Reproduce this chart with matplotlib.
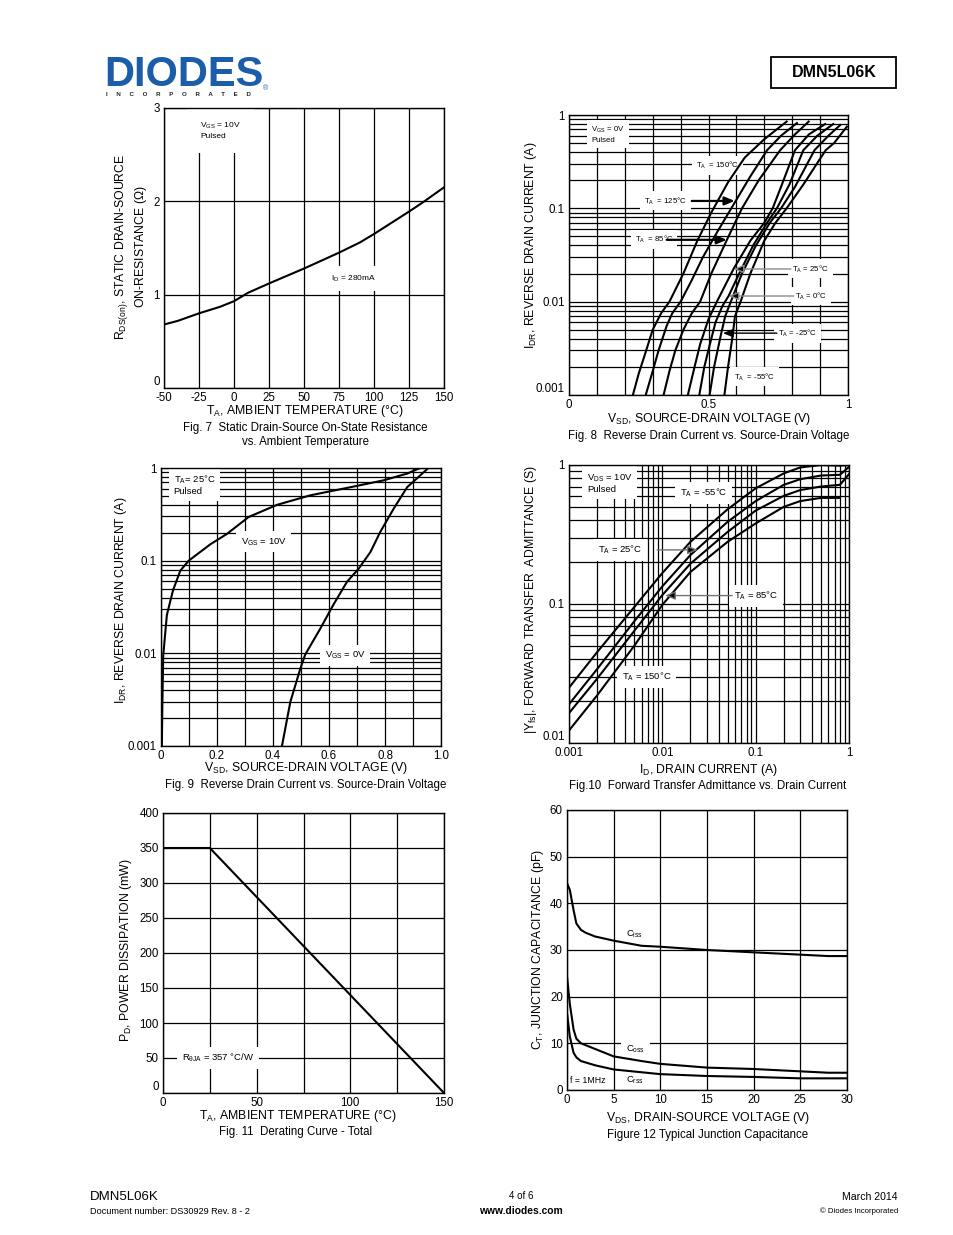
import numpy as np
import matplotlib
matplotlib.use("Agg")
import matplotlib.pyplot as plt
from matplotlib.ticker import FixedLocator, FixedFormatter, LogLocator, NullFormatter
from matplotlib.patches import Rectangle

plt.rcParams['font.family'] = ['Liberation Sans', 'DejaVu Sans']
plt.rcParams['mathtext.fontset'] = 'custom'
plt.rcParams['mathtext.rm'] = 'Liberation Sans'
plt.rcParams['mathtext.it'] = 'Liberation Sans:italic'
plt.rcParams['mathtext.default'] = 'regular'
plt.rcParams['axes.unicode_minus'] = False

# ---------------- data ----------------
# Fig 7
f7_temp = [-50, -40, -25, -10, 0, 10, 25, 50, 75, 90, 100, 125, 135, 150]
f7_rdson = [0.68, 0.72, 0.80, 0.87, 0.93, 1.02, 1.12, 1.28, 1.45, 1.56, 1.65, 1.89, 1.99, 2.15]

# Fig 8 (V_SD, I_DR) per temperature
f8_150_v = [0.229, 0.25, 0.27, 0.30, 0.33, 0.36, 0.41, 0.46, 0.51, 0.57, 0.63, 0.70, 0.78]
f8_150_i = [0.001, 0.0017, 0.0026, 0.005, 0.0075, 0.01, 0.02, 0.045, 0.09, 0.19, 0.35, 0.55, 0.85]
f8_125_v = [0.275, 0.30, 0.321, 0.35, 0.37, 0.40, 0.44, 0.48, 0.53, 0.596, 0.65, 0.71, 0.76, 0.817]
f8_125_i = [0.001, 0.0018, 0.003, 0.0055, 0.0075, 0.01, 0.017, 0.03, 0.055, 0.118, 0.22, 0.42, 0.6, 0.82]
f8_85_v = [0.339, 0.36, 0.381, 0.41, 0.44, 0.47, 0.51, 0.566, 0.62, 0.68, 0.757, 0.81, 0.859]
f8_85_i = [0.001, 0.0018, 0.003, 0.005, 0.0075, 0.01, 0.02, 0.046, 0.1, 0.2, 0.42, 0.62, 0.85]
f8_25_v = [0.426, 0.45, 0.47, 0.50, 0.53, 0.59, 0.65, 0.70, 0.73, 0.76, 0.81, 0.86, 0.918]
f8_25_i = [0.001, 0.002, 0.0035, 0.0065, 0.01, 0.0225, 0.045, 0.07, 0.1, 0.17, 0.42, 0.62, 0.8]
f8_0_v = [0.467, 0.485, 0.505, 0.525, 0.55, 0.572, 0.61, 0.66, 0.71, 0.745, 0.79, 0.84, 0.89, 0.947]
f8_0_i = [0.001, 0.002, 0.0035, 0.006, 0.009, 0.0115, 0.02, 0.04, 0.07, 0.1, 0.18, 0.42, 0.6, 0.8]
f8_m25_v = [0.504, 0.52, 0.545, 0.56, 0.58, 0.62, 0.67, 0.72, 0.76, 0.81, 0.88, 0.93, 0.972]
f8_m25_i = [0.001, 0.002, 0.0045, 0.007, 0.01, 0.02, 0.04, 0.07, 0.1, 0.17, 0.42, 0.6, 0.78]
f8_m55_v = [0.557, 0.57, 0.585, 0.595, 0.615, 0.65, 0.70, 0.74, 0.78, 0.84, 0.92, 0.95, 0.996]
f8_m55_i = [0.001, 0.002, 0.004, 0.007, 0.01, 0.02, 0.045, 0.07, 0.1, 0.18, 0.42, 0.5, 0.75]

# Fig 9
f9_10v_v = [0.003, 0.005, 0.008, 0.021, 0.043, 0.069, 0.099, 0.176, 0.236, 0.313, 0.414, 0.533, 0.676, 0.795, 0.879, 0.925]
f9_10v_i = [0.001, 0.003, 0.0095, 0.026, 0.048, 0.078, 0.1, 0.15, 0.195, 0.296, 0.40, 0.507, 0.62, 0.736, 0.87, 1.0]
f9_0v_v = [0.432, 0.462, 0.498, 0.515, 0.569, 0.617, 0.664, 0.706, 0.748, 0.783, 0.831, 0.879, 0.955]
f9_0v_i = [0.001, 0.003, 0.0069, 0.0097, 0.0185, 0.034, 0.059, 0.082, 0.124, 0.204, 0.364, 0.62, 1.0]

# Fig 10
f10_id = [0.001, 0.002, 0.005, 0.01, 0.02, 0.05, 0.1, 0.2, 0.3, 0.5, 0.8, 1.0]
f10_m55 = [0.025, 0.045, 0.095, 0.167, 0.28, 0.48, 0.68, 0.87, 0.96, 1.0, 0.99, 1.0]
f10_25 = [0.019, 0.034, 0.075, 0.134, 0.225, 0.39, 0.55, 0.72, 0.79, 0.84, 0.85, 0.97]
f10_85 = [0.0164, 0.029, 0.064, 0.116, 0.195, 0.33, 0.47, 0.60, 0.66, 0.70, 0.72, 0.86]
f10_150_id = [0.001, 0.002, 0.005, 0.01, 0.02, 0.05, 0.1, 0.2, 0.3, 0.5, 0.8]
f10_150 = [0.0123, 0.022, 0.05, 0.0986, 0.17, 0.28, 0.38, 0.50, 0.55, 0.58, 0.58]

# Fig 11
f11_temp = [0, 25, 150]
f11_pd = [350, 350, 0]

# Fig 12
f12_vds = [0, 0.3, 0.7, 1.0, 1.5, 2, 3, 5, 8, 10, 15, 20, 25, 28, 30]
f12_ciss = [44.3, 42.9, 38.6, 35.7, 34.3, 33.7, 32.9, 32.0, 30.9, 30.7, 30.0, 29.5, 29.0, 28.7, 28.7]
f12_coss = [24.3, 18.5, 13.0, 11.0, 10.0, 9.6, 8.8, 7.2, 6.2, 5.6, 4.8, 4.5, 4.0, 3.7, 3.7]
f12_crss = [16.5, 11.5, 8.0, 7.0, 6.2, 5.9, 5.3, 4.4, 3.8, 3.4, 3.0, 2.8, 2.5, 2.5, 2.5]

# ---------------- layout ----------------
W, H = 954, 1235
fig = plt.figure(figsize=(W / 100, H / 100), dpi=100)

TICK_FS = 8.3
LAB_FS = 8.8
CAP_FS = 8.3
LW_CURVE = 1.5
LW_GRID = 0.9


def add_ax(l, t, r, b):
    ax = fig.add_axes([l / W, 1 - b / H, (r - l) / W, (b - t) / H])
    for s in ax.spines.values():
        s.set_linewidth(1.0)
        s.set_zorder(6)
    ax.tick_params(which='both', length=0, pad=3, labelsize=TICK_FS)
    ax.set_axisbelow(True)
    return ax


def lift_bottom_label(ax):
    ax.yaxis.get_major_ticks()[0].label1.set_verticalalignment('bottom')


def ft(x, y, s, **kw):
    kw.setdefault('ha', 'center')
    kw.setdefault('va', 'center')
    return fig.text(x / W, 1 - y / H, s, **kw)


WB = dict(facecolor='white', edgecolor='none', boxstyle='square,pad=0.5')


def grid(ax, which='major', axis='both'):
    ax.grid(True, which=which, axis=axis, color='black', lw=LW_GRID)


# ---------- Fig 7 ----------
ax7 = add_ax(164, 108, 444, 388)
ax7.set_xlim(-50, 150)
ax7.set_ylim(0, 3)
ax7.set_xticks(np.arange(-50, 151, 25))
ax7.set_yticks([0, 1, 2, 3])
grid(ax7)
ax7.plot(f7_temp, f7_rdson, color='black', lw=LW_CURVE, zorder=4)
ax7.text(-24, 2.76, r'V$_{\rm GS}$ = 10V' + '\nPulsed', fontsize=6, ha='left', va='center',
         bbox=dict(facecolor='white', edgecolor='none', boxstyle='square,pad=1.6'), zorder=3, linespacing=1.3)
ax7.text(69, 1.17, r'I$_{\rm D}$ = 280mA', fontsize=6, ha='left', va='center',
         bbox=dict(facecolor='white', edgecolor='none', boxstyle='square,pad=0.9'), zorder=3)
lift_bottom_label(ax7)
ft(305, 411, r'T$_{\rm A}$, AMBIENT TEMPERATURE ($\degree$C)', fontsize=LAB_FS)
ft(305, 428, 'Fig. 7  Static Drain-Source On-State Resistance', fontsize=CAP_FS)
ft(305, 442, 'vs. Ambient Temperature', fontsize=CAP_FS)
ft(122, 247, r'R$_{\rm DS(on)}$, STATIC DRAIN-SOURCE', fontsize=LAB_FS, rotation=90)
ft(141, 247, r'ON-RESISTANCE ($\Omega$)', fontsize=LAB_FS, rotation=90)

# ---------- Fig 8 ----------
ax8 = add_ax(569, 115, 848, 395)
ax8.set_yscale('log')
ax8.set_xlim(0, 1)
ax8.set_ylim(0.001, 1)
ax8.xaxis.set_major_locator(FixedLocator(np.round(np.arange(0, 1.01, 0.1), 2)))
ax8.xaxis.set_major_formatter(FixedFormatter(['0', '', '', '', '', '0.5', '', '', '', '', '1']))
ax8.yaxis.set_major_locator(FixedLocator([0.001, 0.01, 0.1, 1]))
ax8.yaxis.set_major_formatter(FixedFormatter(['0.001', '0.01', '0.1', '1']))
ax8.yaxis.set_minor_locator(LogLocator(base=10, subs=np.arange(2, 10)))
ax8.yaxis.set_minor_formatter(NullFormatter())
grid(ax8, 'major')
grid(ax8, 'minor', 'y')
for v, i in [(f8_150_v, f8_150_i), (f8_125_v, f8_125_i), (f8_85_v, f8_85_i), (f8_25_v, f8_25_i),
             (f8_0_v, f8_0_i), (f8_m25_v, f8_m25_i), (f8_m55_v, f8_m55_i)]:
    ax8.plot(v, i, color='black', lw=LW_CURVE, zorder=4)
AFS = 5.6
ax8.text(0.08, 0.62, r'V$_{\rm GS}$ = 0V' + '\nPulsed', fontsize=AFS, ha='left', va='center', bbox=WB, zorder=3,
         linespacing=1.3)
ax8.text(0.455, 0.29, r'T$_{\rm A}$  = 150°C', fontsize=AFS, ha='left', va='center', bbox=WB, zorder=3)
ax8.text(0.27, 0.12, r'T$_{\rm A}$  = 125°C', fontsize=AFS, ha='left', va='center', bbox=WB, zorder=3)
ax8.text(0.235, 0.046, r'T$_{\rm A}$  = 85°C', fontsize=AFS, ha='left', va='center', bbox=WB, zorder=3)
ax8.text(0.80, 0.0224, r'T$_{\rm A}$ = 25°C', fontsize=AFS, ha='left', va='center', bbox=WB, zorder=3)
ax8.text(0.81, 0.0115, r'T$_{\rm A}$ = 0°C', fontsize=AFS, ha='left', va='center', bbox=WB, zorder=3)
ax8.text(0.75, 0.0046, r'T$_{\rm A}$ = -25°C', fontsize=AFS, ha='left', va='center', bbox=WB, zorder=3)
ax8.text(0.59, 0.00156, r'T$_{\rm A}$  = -55°C', fontsize=AFS, ha='left', va='center', bbox=WB, zorder=3)
blk = dict(arrowstyle='-|>,head_length=0.6,head_width=0.25', color='black', lw=1.6, shrinkA=0, shrinkB=0)
gry = dict(arrowstyle='-|>,head_length=0.6,head_width=0.25', ec='0.55', fc='black', lw=1.0, shrinkA=0, shrinkB=0)
ax8.annotate('', xy=(0.594, 0.12), xytext=(0.44, 0.12), arrowprops=blk, zorder=5)
ax8.annotate('', xy=(0.566, 0.046), xytext=(0.35, 0.046), arrowprops=blk, zorder=5)
ax8.annotate('', xy=(0.59, 0.0224), xytext=(0.795, 0.0224), arrowprops=gry, zorder=5)
ax8.annotate('', xy=(0.572, 0.0115), xytext=(0.805, 0.0115), arrowprops=gry, zorder=5)
ax8.annotate('', xy=(0.552, 0.0046), xytext=(0.745, 0.0046), arrowprops=blk | dict(lw=1.0), zorder=5)
lift_bottom_label(ax8)
ft(709, 419, r'V$_{\rm SD}$, SOURCE-DRAIN VOLTAGE (V)', fontsize=LAB_FS)
ft(709, 436, 'Fig. 8  Reverse Drain Current vs. Source-Drain Voltage', fontsize=CAP_FS)
ft(531, 245, r'I$_{\rm DR}$, REVERSE DRAIN CURRENT (A)', fontsize=LAB_FS, rotation=90)

# ---------- Fig 9 ----------
ax9 = add_ax(161, 468, 441, 746)
ax9.set_yscale('log')
ax9.set_xlim(0, 1)
ax9.set_ylim(0.001, 1)
ax9.xaxis.set_major_locator(FixedLocator(np.round(np.arange(0, 1.01, 0.1), 2)))
ax9.xaxis.set_major_formatter(FixedFormatter(['0', '', '0.2', '', '0.4', '', '0.6', '', '0.8', '', '1.0']))
ax9.yaxis.set_major_locator(FixedLocator([0.001, 0.01, 0.1, 1]))
ax9.yaxis.set_major_formatter(FixedFormatter(['0.001', '0.01', '0.1', '1']))
ax9.yaxis.set_minor_locator(LogLocator(base=10, subs=np.arange(2, 10)))
ax9.yaxis.set_minor_formatter(NullFormatter())
grid(ax9, 'major')
grid(ax9, 'minor', 'y')
ax9.plot(f9_10v_v, f9_10v_i, color='black', lw=LW_CURVE, zorder=4)
ax9.plot(f9_0v_v, f9_0v_i, color='black', lw=LW_CURVE, zorder=4)
ax9.text(0.045, 0.66, r'T$_{\rm A}$= 25°C' + '\nPulsed', fontsize=6.8, ha='left', va='center', bbox=WB, zorder=3,
         linespacing=1.25)
ax9.text(0.285, 0.16, r'V$_{\rm GS}$ = 10V', fontsize=6.8, ha='left', va='center', bbox=WB, zorder=3)
ax9.text(0.585, 0.0095, r'V$_{\rm GS}$ = 0V', fontsize=6.8, ha='left', va='center', bbox=WB, zorder=3)
ft(306, 768, r'V$_{\rm SD}$, SOURCE-DRAIN VOLTAGE (V)', fontsize=LAB_FS)
ft(306, 785, 'Fig. 9  Reverse Drain Current vs. Source-Drain Voltage', fontsize=CAP_FS)
ft(121, 600, r'I$_{\rm DR}$, REVERSE DRAIN CURRENT (A)', fontsize=LAB_FS, rotation=90)

# ---------- Fig 10 ----------
ax10 = add_ax(569, 465, 849, 743)
ax10.set_xscale('log')
ax10.set_yscale('log')
ax10.set_xlim(0.001, 1)
ax10.set_ylim(0.01, 1)
ax10.xaxis.set_major_locator(FixedLocator([0.001, 0.01, 0.1, 1]))
ax10.xaxis.set_major_formatter(FixedFormatter(['0.001', '0.01', '0.1', '1']))
ax10.yaxis.set_major_locator(FixedLocator([0.01, 0.1, 1]))
ax10.yaxis.set_major_formatter(FixedFormatter(['0.01', '0.1', '1']))
for a in (ax10.xaxis, ax10.yaxis):
    a.set_minor_locator(LogLocator(base=10, subs=np.arange(2, 10)))
    a.set_minor_formatter(NullFormatter())
grid(ax10, 'major')
grid(ax10, 'minor')
for yv in (f10_m55, f10_25, f10_85):
    ax10.plot(f10_id, yv, color='black', lw=LW_CURVE, zorder=4)
ax10.plot(f10_150_id, f10_150, color='black', lw=LW_CURVE, zorder=4)
A10 = 6.8
ax10.text(0.00155, 0.74, r'V$_{\rm DS}$ = 10V' + '\nPulsed', fontsize=A10, ha='left', va='center', bbox=WB, zorder=3,
          linespacing=1.25)
ax10.text(0.0155, 0.63, r'T$_{\rm A}$ = -55°C', fontsize=A10, ha='left', va='center', bbox=WB, zorder=3)
ax10.text(0.00205, 0.245, r'T$_{\rm A}$ = 25°C', fontsize=A10, ha='left', va='center', bbox=WB, zorder=3)
ax10.text(0.058, 0.115, r'T$_{\rm A}$ = 85°C', fontsize=A10, ha='left', va='center', bbox=WB, zorder=3)
ax10.text(0.0037, 0.03, r'T$_{\rm A}$ = 150°C', fontsize=A10, ha='left', va='center', bbox=WB, zorder=3)
g10 = dict(arrowstyle='-|>,head_length=0.6,head_width=0.25', ec='0.45', fc='black', lw=1.0, shrinkA=0, shrinkB=0)
ax10.annotate('', xy=(0.024, 0.245), xytext=(0.0088, 0.245), arrowprops=g10, zorder=5)
ax10.annotate('', xy=(0.0107, 0.115), xytext=(0.056, 0.115), arrowprops=g10, zorder=5)
lift_bottom_label(ax10)
ft(709, 770, r'I$_{\rm D}$, DRAIN CURRENT (A)', fontsize=LAB_FS)
ft(708, 786, 'Fig.10  Forward Transfer Admittance vs. Drain Current', fontsize=CAP_FS)
ft(531, 600, r'|Y$_{\rm fs}$|, FORWARD TRANSFER  ADMITTANCE (S)', fontsize=LAB_FS, rotation=90)

# ---------- Fig 11 ----------
ax11 = add_ax(163, 813, 444, 1093)
ax11.set_xlim(0, 150)
ax11.set_ylim(0, 400)
ax11.xaxis.set_major_locator(FixedLocator(np.arange(0, 151, 25)))
ax11.xaxis.set_major_formatter(FixedFormatter(['0', '', '50', '', '100', '', '150']))
ax11.set_yticks(np.arange(0, 401, 50))
grid(ax11)
ax11.plot(f11_temp, f11_pd, color='black', lw=LW_CURVE, zorder=4)
ax11.text(10, 50, r'R$_{\rm \theta JA}$ = 357 °C/W', fontsize=6.8, ha='left', va='center', bbox=WB, zorder=3)
lift_bottom_label(ax11)
ft(298, 1116, r'T$_{\rm A}$, AMBIENT TEMPERATURE ($\degree$C)', fontsize=LAB_FS)
ft(296, 1132, 'Fig. 11  Derating Curve - Total', fontsize=CAP_FS)
ft(126, 950, r'P$_{\rm D}$, POWER DISSIPATION (mW)', fontsize=LAB_FS, rotation=90)

# ---------- Fig 12 ----------
ax12 = add_ax(567, 810, 847, 1090)
ax12.set_xlim(0, 30)
ax12.set_ylim(0, 60)
ax12.set_xticks(np.arange(0, 31, 5))
ax12.set_yticks(np.arange(0, 61, 10))
grid(ax12)
for yv in (f12_ciss, f12_coss, f12_crss):
    ax12.plot(f12_vds, yv, color='black', lw=LW_CURVE, zorder=4)
ax12.text(6.3, 33.3, r'C$_{\rm iss}$', fontsize=6.8, ha='left', va='center', zorder=3)
ax12.text(6.3, 8.8, r'C$_{\rm oss}$', fontsize=6.8, ha='left', va='center', bbox=WB, zorder=3)
ax12.text(6.3, 2.0, r'C$_{\rm rss}$', fontsize=6.8, ha='left', va='center', zorder=3)
ax12.text(0.35, 2.0, 'f = 1MHz', fontsize=6.3, ha='left', va='center', zorder=3)
ft(708, 1118, r'V$_{\rm DS}$, DRAIN-SOURCE VOLTAGE (V)', fontsize=LAB_FS)
ft(708, 1135, 'Figure 12 Typical Junction Capacitance', fontsize=CAP_FS)
ft(538, 950, r'C$_{\rm T}$, JUNCTION CAPACITANCE (pF)', fontsize=LAB_FS, rotation=90)

# ---------- header ----------
BLUE = '#1b5da8'
ft(104, 86, 'DIODES', fontsize=30, fontweight='bold', color=BLUE, ha='left', va='baseline')
fig.add_artist(plt.Line2D([105 / W, 252 / W], [1 - 71 / H, 1 - 71 / H], color='white', lw=1.6))
ft(106, 94, 'I     N     C     O     R     P     O     R     A     T     E     D', fontsize=4.4,
   fontweight='bold', color='#222222', ha='left')
ft(266, 89, '®', fontsize=5, color=BLUE)
fig.add_artist(Rectangle((771 / W, 1 - 88 / H), (896 - 771) / W, (88 - 57) / H, transform=fig.transFigure,
                         fill=False, edgecolor='black', lw=1.3))
ft(834, 72.5, 'DMN5L06K', fontsize=11.5, fontweight='bold')

# ---------- footer ----------
ft(90, 1197, 'DMN5L06K', fontsize=9.5, ha='left')
ft(90, 1212, 'Document number: DS30929 Rev. 8 - 2', fontsize=6.6, ha='left')
ft(521, 1196, '4 of 6', fontsize=7.0)
ft(521, 1211, 'www.diodes.com', fontsize=7.4, fontweight='bold')
ft(898, 1197, 'March 2014', fontsize=7.6, ha='right')
ft(898, 1211, '© Diodes Incorporated', fontsize=5.6, ha='right')

fig.savefig('out.png', dpi=100)
